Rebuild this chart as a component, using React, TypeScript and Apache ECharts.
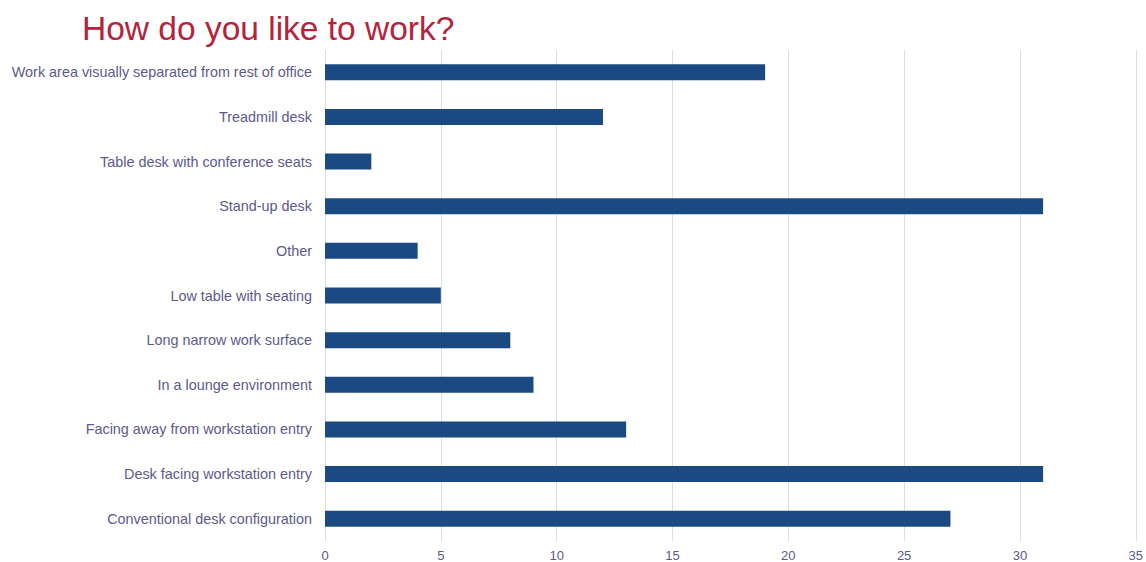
import React, { useEffect, useRef } from "react";
import * as echarts from "echarts";

const categories = [
  "Conventional desk configuration",
  "Desk facing workstation entry",
  "Facing away from workstation entry",
  "In a lounge environment",
  "Long narrow work surface",
  "Low table with seating",
  "Other",
  "Stand-up desk",
  "Table desk with conference seats",
  "Treadmill desk",
  "Work area visually separated from rest of office",
];
const values = [27, 31, 13, 9, 8, 5, 4, 31, 2, 12, 19];
const titleText = "How do you like to work?";

export default function App() {
  const ref = useRef<HTMLDivElement>(null);
  useEffect(() => {
    if (!ref.current) return;
    const chart = echarts.init(ref.current, null, { renderer: "svg" });
    chart.setOption({
      animation: false,
      backgroundColor: "#ffffff",
      title: {
        text: titleText,
        left: 77,
        top: 6,
        textStyle: {
          color: "#b3243c",
          fontSize: 33.5,
          fontWeight: "normal",
          fontFamily: "Liberation Sans, Arial, sans-serif",
        },
      },
      grid: { left: 325, right: 9, top: 50, bottom: 21, containLabel: false },
      xAxis: {
        type: "value",
        min: 0,
        max: 35,
        interval: 5,
        axisLine: { show: false },
        axisTick: { show: false },
        splitLine: { show: true, lineStyle: { color: "#dcdce4", width: 1 } },
        axisLabel: {
          color: "#5c5a8a",
          fontSize: 13,
          margin: 8,
          fontFamily: "Liberation Sans, Arial, sans-serif",
        },
      },
      yAxis: {
        type: "category",
        data: categories,
        axisLine: { show: false },
        axisTick: { show: false },
        axisLabel: {
          color: "#5c5a8a",
          fontSize: 14.4,
          margin: 13,
          fontFamily: "Liberation Sans, Arial, sans-serif",
        },
      },
      series: [
        {
          type: "bar",
          data: values,
          barWidth: 16,
          itemStyle: { color: "#1b4a82" },
        },
      ],
    });
    return () => chart.dispose();
  }, []);
  return (
    <div
      ref={ref}
      style={{ position: "fixed", left: 0, top: 0, width: 1146, height: 562 }}
    />
  );
}
